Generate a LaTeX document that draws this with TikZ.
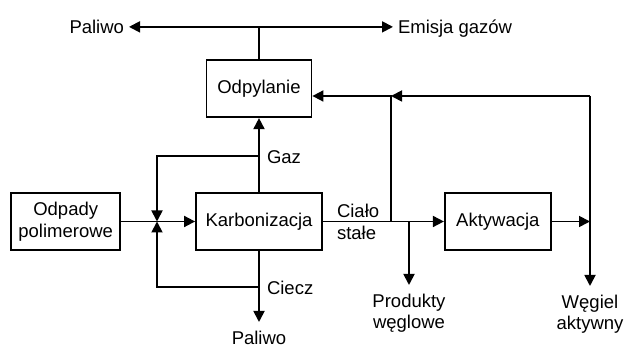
\documentclass[tikz,border=0pt]{standalone}
\usepackage{fontspec}
\setmainfont{Liberation Sans}
\usetikzlibrary{arrows.meta,positioning}
\tikzstyle{proc}=[
	draw=black,
	align=center,
	rectangle,
	minimum height=57,
	inner sep=2,
	font=\fontsize{18.5}{21.5}\selectfont]
\tikzstyle{lbl}=[
	align=left,
	inner sep=0,
	outer sep=5,
	font=\fontsize{18.5}{21.5}\selectfont]
\tikzstyle{wyj}=[
	lbl,
	align=center,
	anchor=north,
	outer ysep=9]

\begin{document}
\begin{tikzpicture}[x=1pt,y=1pt,line width=1.8pt,>={Triangle[length=11pt,width=11pt]}]
	\useasboundingbox (0,0) rectangle (625,347);
	\begin{scope}[node distance=74]
		\node[proc,minimum width=126]	(karb)	at (259,125.5)	{Karbonizacja};
		\node[proc,minimum width=105]	(odpyl)	[above=of karb]	{Odpylanie};
		\node[proc,minimum width=109]	(odpady)	[left=of karb]	{Odpady\\polimerowe};
		\node[proc,minimum width=106]	(aktyw)	[right=121 of karb]	{Aktywacja};
	\end{scope}
	\begin{scope}
		\coordinate (jn) at (157,125.5);
		\coordinate (gazk) at (259,191);
		\coordinate (ciek) at (259,60);
		\coordinate (rozg) at (391,125.5);
		\coordinate (prodk) at (409,125.5);
		\coordinate (powr) at (391,251);
		\coordinate (wegk) at (590,251);
		\coordinate (aktk) at (590,125.5);
	\end{scope}
	\begin{scope}
		\node[lbl,anchor=base east]	(paltop)	at (129,313.5)	{Paliwo};
		\node[lbl,anchor=base west]	(emis)	at (393,313.5)	{Emisja gazów};
		\node[lbl,anchor=west]	(gaz)	at (262,190)	{Gaz};
		\node[lbl,anchor=west]	(ciecz)	at (262,59)	{Ciecz};
		\node[lbl,anchor=west]	(cialo)	at (332,125)	{Ciało\\stałe};
		\node[wyj]	(palb)	at (259,25)	{Paliwo};
		\node[wyj]	(prod)	at (409,62)	{Produkty\\węglowe};
		\node[wyj]	(wegiel)	at (590,61)	{Węgiel\\aktywny};
	\end{scope}
	\draw[<->] (paltop.east) -- (paltop.east -| emis.west);
	\draw (odpyl.north) -- (odpyl.north |- paltop.east);
	\draw[->] (odpady) -- (karb);
	\draw[->] (karb) -- (odpyl);
	\draw[->] (gazk) -| (jn);
	\draw[->] (ciek) -| (jn);
	\draw[->] (karb) -- (palb.north);
	\draw[->] (karb) -- (aktyw);
	\draw[->] (rozg) -- (powr) -- (odpyl.east |- powr);
	\draw[->] (wegk) -- (powr);
	\draw[->] (wegk) -- (wegiel.north);
	\draw[->] (aktyw) -- (aktk);
	\draw[->] (prodk) -- (prod.north);
\end{tikzpicture}
\end{document}
